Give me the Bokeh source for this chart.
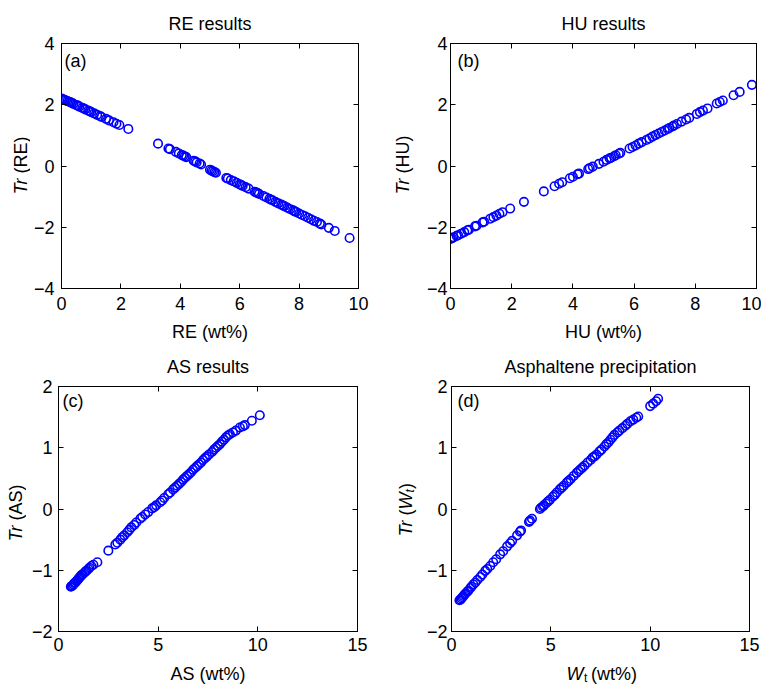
import math
from bokeh.plotting import figure
from bokeh.layouts import row, column
from bokeh.models import Range1d, FixedTicker, LinearAxis, Label
from bokeh.embed import file_html
from bokeh.resources import INLINE

FONT = "Liberation Sans"
BLUE = "#0000ff"

# ---------------- data ----------------
re_x = [0.0, 0.05, 0.1, 0.15, 0.2, 0.25, 0.3, 0.35, 0.4, 0.5, 0.55, 0.6, 0.7, 0.75, 0.8, 0.9, 0.95, 1.0,
        1.1, 1.2, 1.3, 1.35, 1.5, 1.6, 1.75, 1.85, 1.95, 2.25, 3.25, 3.6, 3.65, 3.85, 3.95, 4.05, 4.1,
        4.15, 4.2, 4.45, 4.5, 4.55, 4.65, 4.7, 5.0, 5.05, 5.1, 5.15, 5.2, 5.55, 5.6, 5.7, 5.8, 5.9, 6.0,
        6.05, 6.1, 6.2, 6.3, 6.5, 6.55, 6.6, 6.65, 6.8, 6.9, 7.0, 7.05, 7.1, 7.2, 7.3, 7.4, 7.45, 7.5,
        7.6, 7.7, 7.8, 7.85, 7.9, 8.0, 8.1, 8.2, 8.3, 8.4, 8.5, 8.6, 8.7, 8.75, 9.0, 9.2, 9.7]
re_y = [2.20, 2.18, 2.16, 2.14, 2.12, 2.10, 2.08, 2.06, 2.03, 1.99, 1.97, 1.94, 1.90, 1.88, 1.85, 1.81,
        1.79, 1.76, 1.72, 1.67, 1.63, 1.60, 1.54, 1.49, 1.43, 1.38, 1.34, 1.21, 0.73, 0.57, 0.55, 0.46,
        0.41, 0.36, 0.34, 0.31, 0.29, 0.17, 0.15, 0.12, 0.08, 0.05, -0.12, -0.15, -0.17, -0.20, -0.22,
        -0.39, -0.41, -0.46, -0.50, -0.55, -0.60, -0.62, -0.65, -0.69, -0.74, -0.84, -0.86, -0.88, -0.91,
        -0.98, -1.03, -1.07, -1.10, -1.12, -1.17, -1.22, -1.26, -1.29, -1.31, -1.36, -1.41, -1.45, -1.48,
        -1.50, -1.55, -1.60, -1.64, -1.69, -1.74, -1.79, -1.83, -1.88, -1.91, -2.02, -2.12, -2.35]

hu_x = [0.0, 0.05, 0.1, 0.2, 0.25, 0.35, 0.45, 0.55, 0.6, 0.8, 0.85, 1.05, 1.1, 1.3, 1.4, 1.5, 1.6, 1.7,
        1.95, 2.4, 3.05, 3.4, 3.55, 3.65, 3.9, 4.0, 4.15, 4.2, 4.5, 4.55, 4.65, 4.85, 5.0, 5.1, 5.2, 5.25,
        5.35, 5.4, 5.5, 5.55, 5.85, 5.95, 6.05, 6.15, 6.25, 6.4, 6.5, 6.6, 6.7, 6.8, 6.9, 7.0, 7.1, 7.15,
        7.25, 7.3, 7.4, 7.55, 7.7, 7.8, 8.05, 8.15, 8.25, 8.4, 8.7, 8.8, 8.9, 9.25, 9.45, 9.85]
hu_y = [-2.38, -2.36, -2.33, -2.28, -2.26, -2.21, -2.16, -2.10, -2.08, -1.97, -1.95, -1.84, -1.82, -1.72,
        -1.67, -1.62, -1.56, -1.51, -1.39, -1.17, -0.83, -0.66, -0.58, -0.53, -0.40, -0.35, -0.27, -0.25,
        -0.10, -0.07, -0.02, 0.07, 0.14, 0.20, 0.25, 0.27, 0.32, 0.35, 0.40, 0.43, 0.57, 0.62, 0.67, 0.73,
        0.78, 0.85, 0.90, 0.96, 1.01, 1.06, 1.11, 1.16, 1.21, 1.24, 1.29, 1.32, 1.37, 1.45, 1.52, 1.57,
        1.70, 1.76, 1.81, 1.88, 2.04, 2.09, 2.14, 2.31, 2.42, 2.65]

as_x = [0.62, 0.65, 0.7, 0.75, 0.8, 0.85, 0.9, 0.95, 1.0, 1.05, 1.1, 1.15, 1.2, 1.3, 1.35, 1.4, 1.5, 1.55,
        1.65, 1.75, 1.95, 2.5, 2.85, 2.95, 3.1, 3.2, 3.3, 3.45, 3.55, 3.65, 3.8, 3.9, 4.1, 4.2, 4.35, 4.5,
        4.7, 4.8, 4.9, 5.1, 5.2, 5.3, 5.5, 5.6, 5.75, 5.85, 5.95, 6.05, 6.15, 6.25, 6.35, 6.45, 6.55, 6.65,
        6.75, 6.85, 6.95, 7.05, 7.15, 7.25, 7.35, 7.45, 7.55, 7.7, 7.8, 7.9, 8.0, 8.1, 8.2, 8.3, 8.4, 8.5,
        8.6, 8.75, 8.9, 9.1, 9.25, 9.35, 9.7, 10.1]
as_y = [-1.27, -1.26, -1.25, -1.23, -1.21, -1.20, -1.18, -1.16, -1.14, -1.12, -1.10, -1.08, -1.07, -1.04,
        -1.02, -1.01, -0.98, -0.96, -0.93, -0.91, -0.87, -0.68, -0.58, -0.55, -0.50, -0.46, -0.43, -0.38,
        -0.34, -0.30, -0.26, -0.22, -0.16, -0.13, -0.09, -0.05, 0.01, 0.03, 0.06, 0.11, 0.14, 0.18, 0.24,
        0.27, 0.32, 0.35, 0.38, 0.41, 0.44, 0.48, 0.51, 0.54, 0.57, 0.60, 0.64, 0.67, 0.70, 0.73, 0.76,
        0.80, 0.83, 0.86, 0.89, 0.93, 0.97, 1.00, 1.03, 1.06, 1.10, 1.13, 1.17, 1.20, 1.22, 1.25, 1.28,
        1.33, 1.35, 1.37, 1.44, 1.53]

wt_x = [0.4, 0.45, 0.5, 0.55, 0.6, 0.65, 0.7, 0.8, 0.85, 0.95, 1.0, 1.1, 1.2, 1.3, 1.45, 1.55, 1.7, 1.8,
        1.95, 2.1, 2.25, 2.45, 2.6, 2.8, 2.95, 3.05, 3.3, 3.45, 3.5, 3.9, 3.95, 4.05, 4.45, 4.5, 4.6, 4.65,
        4.75, 4.85, 4.95, 5.1, 5.2, 5.3, 5.45, 5.55, 5.65, 5.8, 5.9, 6.0, 6.15, 6.3, 6.4, 6.5, 6.6, 6.7,
        6.85, 7.0, 7.1, 7.2, 7.3, 7.45, 7.55, 7.7, 7.8, 7.9, 8.0, 8.1, 8.2, 8.35, 8.45, 8.6, 8.75, 8.85,
        9.0, 9.15, 9.3, 9.4, 10.0, 10.15, 10.3, 10.4]
wt_y = [-1.49, -1.48, -1.46, -1.44, -1.42, -1.40, -1.38, -1.35, -1.33, -1.29, -1.27, -1.23, -1.20, -1.16,
        -1.11, -1.07, -1.01, -0.98, -0.93, -0.87, -0.82, -0.74, -0.69, -0.61, -0.56, -0.52, -0.43, -0.37,
        -0.35, -0.21, -0.19, -0.16, 0.00, 0.02, 0.04, 0.06, 0.09, 0.12, 0.15, 0.20, 0.23, 0.27, 0.32,
        0.35, 0.38, 0.43, 0.46, 0.49, 0.54, 0.59, 0.62, 0.65, 0.68, 0.71, 0.76, 0.80, 0.84, 0.86, 0.89,
        0.94, 0.97, 1.02, 1.06, 1.09, 1.13, 1.17, 1.21, 1.25, 1.28, 1.32, 1.36, 1.39, 1.43, 1.46, 1.49,
        1.51, 1.68, 1.72, 1.76, 1.80]

ticks_10 = [0, 2, 4, 6, 8, 10]
ticks_pm4 = [-4, -2, 0, 2, 4]
ticks_15 = [0, 5, 10, 15]
ticks_pm2 = [-2, -1, 0, 1, 2]


def minus(ticks):
    return {t: ("\u2212" + str(abs(t))) for t in ticks if t < 0}


def blank_fig(w, h, x_range, y_range):
    f = figure(width=w, height=h, output_backend="svg", toolbar_location=None,
               x_range=x_range, y_range=y_range, min_border=0,
               x_axis_location=None, y_axis_location=None)
    f.grid.visible = False
    f.outline_line_color = None
    f.background_fill_color = "white"
    f.border_fill_color = "white"
    if f.title is not None:
        f.title.visible = False
    return f


def ystrip(w, h, panel, cx, dy, pieces):
    # frame of this strip is aligned with the neighbouring panel's frame,
    # so it shares that panel's y range
    yr = panel.y_range
    f = blank_fig(w, h, Range1d(0, w), yr)
    ymid = (yr.start + yr.end) / 2.0
    for (txt, fstyle, fsize, align, along, perp) in pieces:
        f.add_layout(Label(x=cx + perp, y=ymid, y_offset=dy + along, text=txt, angle=math.pi / 2,
                           text_font=FONT, text_font_size=fsize, text_font_style=fstyle,
                           text_align=align, text_baseline="middle", text_color="black"))
    return f


def xstrip(w, h, panel, dx, cy, pieces):
    xr = panel.x_range
    f = blank_fig(w, h, xr, Range1d(0, h))
    xmid = (xr.start + xr.end) / 2.0
    for (txt, fstyle, fsize, align, along, perp) in pieces:
        f.add_layout(Label(x=xmid, x_offset=dx + along, y=cy + perp, text=txt,
                           text_font=FONT, text_font_size=fsize, text_font_style=fstyle,
                           text_align=align, text_baseline="middle", text_color="black"))
    return f


def make_panel(xs, ys, xr, yr, xt, yt, title, tag, w, h, bl, br, bt, bb,
               ytick_standoff, xtick_standoff, xlabel, xlabel_standoff, tag_dx, tag_dy):
    p = figure(width=w, height=h, output_backend="svg", toolbar_location=None,
               x_range=Range1d(*xr), y_range=Range1d(*yr),
               min_border_left=bl, min_border_right=br, min_border_top=bt, min_border_bottom=bb,
               x_axis_location=None, y_axis_location=None)
    p.grid.visible = False
    p.outline_line_color = "black"
    p.outline_line_width = 1
    p.background_fill_color = "white"
    p.border_fill_color = "white"

    p.title.text = title
    p.title.align = "center"
    p.title.text_font = FONT
    p.title.text_font_size = "18px"
    p.title.text_font_style = "normal"
    p.title.text_color = "black"
    p.title.standoff = 19

    def style(ax, labels=True):
        ax.major_tick_in = 5
        ax.major_tick_out = 0
        ax.minor_tick_line_color = None
        ax.axis_line_color = "black"
        ax.major_tick_line_color = "black"
        ax.major_label_text_font = FONT
        if labels:
            ax.major_label_text_font_size = "18px"
            ax.major_label_text_color = "black"
        else:
            ax.major_label_text_font_size = "1px"
            ax.major_label_text_color = None
            ax.major_label_standoff = 0

    xb = LinearAxis(ticker=FixedTicker(ticks=xt), major_label_overrides=minus(xt))
    style(xb)
    xb.major_label_standoff = xtick_standoff
    if xlabel:
        xb.axis_label = xlabel
        xb.axis_label_text_font = FONT
        xb.axis_label_text_font_size = "18px"
        xb.axis_label_text_font_style = "normal"
        xb.axis_label_text_color = "black"
        xb.axis_label_standoff = xlabel_standoff
    p.add_layout(xb, "below")

    yl = LinearAxis(ticker=FixedTicker(ticks=yt), major_label_overrides=minus(yt))
    style(yl)
    yl.major_label_standoff = ytick_standoff
    p.add_layout(yl, "left")

    xa = LinearAxis(ticker=FixedTicker(ticks=xt))
    style(xa, labels=False)
    p.add_layout(xa, "above")
    ya = LinearAxis(ticker=FixedTicker(ticks=yt))
    style(ya, labels=False)
    p.add_layout(ya, "right")

    p.scatter(xs, ys, marker="circle", size=8.5, fill_color=None,
              line_color=BLUE, line_width=1.6)

    p.add_layout(Label(x=xr[0], y=yr[1], x_offset=tag_dx, y_offset=-tag_dy, text=tag,
                       text_font=FONT, text_font_size="18px", text_baseline="middle",
                       text_align="left", text_color="black"))
    return p


# ---- panels ----
pa = make_panel(re_x, re_y, (0, 10), (-4, 4), ticks_10, ticks_pm4, "RE results", "(a)",
                350, 345, 28, 22, 43, 57, 7, 8, "RE (wt%)", 9, 3, 17)
pb = make_panel(hu_x, hu_y, (0, 10), (-4, 4), ticks_10, ticks_pm4, "HU results", "(b)",
                341, 345, 30, 5, 43, 57, 3, 8, "HU (wt%)", 9, 7, 17)
pc = make_panel(as_x, as_y, (0, 15), (-2, 2), ticks_15, ticks_pm2, "AS results", "(c)",
                354, 345, 32, 23, 41, 59, 6, 6, "AS (wt%)", 10, 4, 14)
pd_ = make_panel(wt_x, wt_y, (0, 15), (-2, 2), ticks_15, ticks_pm2, "Asphaltene precipitation", "(d)",
                 339, 312, 29, 12, 41, 26, 4, 6, None, 0, 6, 14)

# ---- axis-title strips (mixed italic / upright text) ----
sa = ystrip(30, 345, pa, 20, -12.5, [("Tr", "italic", "18px", "right", 0, 0),
                                      ("(RE)", "normal", "18px", "left", 5, 0)])
sb = ystrip(40, 345, pb, 22, -12.5, [("Tr", "italic", "18px", "right", 0, 0),
                                      ("(HU)", "normal", "18px", "left", 5, 0)])
sc = ystrip(26, 345, pc, 15, -16.5, [("Tr", "italic", "18px", "right", 0, 0),
                                      ("(AS)", "normal", "18px", "left", 5, 0)])
sd = ystrip(42, 345, pd_, 25, -11.5, [("Tr", "italic", "18px", "right", 0, 0),
                                       ("(", "normal", "18px", "left", 5, 0),
                                       ("W", "italic", "18px", "left", 11, 0),
                                       ("t", "italic", "12px", "left", 28, 4),
                                       (")", "normal", "18px", "left", 31.5, 0)])
xd = xstrip(339, 33, pd_, -17, 17, [("W", "italic", "18px", "right", 0, 0),
                                     ("t", "normal", "12px", "left", 0.5, -4),
                                     ("(wt%)", "normal", "18px", "left", 7.5, 0)])

top = row(sa, pa, sb, pb, spacing=0)
bottom = row(sc, pc, sd, column(pd_, xd, spacing=0), spacing=0)
layout = column(top, bottom, spacing=0)

with open("out.html", "w") as f:
    f.write(file_html(layout, INLINE))
